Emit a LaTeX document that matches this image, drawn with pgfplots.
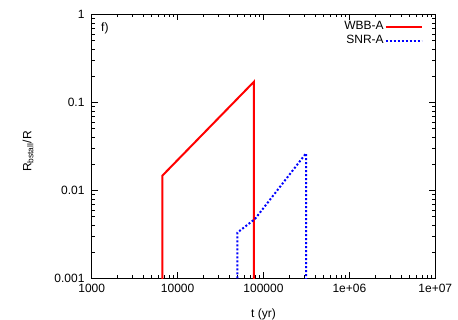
\documentclass[border=0pt]{standalone}
\usepackage{fontspec}
\setmainfont{Liberation Sans}
\usepackage{pgfplots}
\pgfplotsset{compat=1.18}
\begin{document}
\fontsize{12bp}{14bp}\selectfont
\begin{tikzpicture}
\useasboundingbox (-91.7bp,-41.7bp) rectangle (366.3bp,278.3bp);
\begin{axis}[
    at={(0,0)}, anchor=south west,
    scale only axis,
    width=343.6bp, height=264bp,
    xmode=log, ymode=log,
    xmin=1000, xmax=1e7,
    ymin=0.001, ymax=1,
    xtick={1000,10000,100000,1000000,10000000},
    xticklabels={1000,10000,100000,1e+06,1e+07},
    ytick={0.001,0.01,0.1,1},
    yticklabels={0.001,0.01,0.1,1},
    tick label style={font=\fontsize{12bp}{14bp}\selectfont},
    label style={font=\fontsize{12bp}{14bp}\selectfont},
    xticklabel style={yshift=-2bp},
    yticklabel style={xshift=-3bp},
    major tick length=6bp, minor tick length=3bp,
    axis line style={line width=0.8bp},
    every tick/.style={black, line width=0.6bp},
    xlabel={t (yr)},
    ylabel={R\textsubscript{bstall}/R},
    xlabel style={at={(axis description cs:0.5,-0.135)}, anchor=center},
    ylabel style={at={(axis description cs:-0.185,0.48)}, anchor=center, rotate=0},
    legend style={draw=none, fill=none, inner sep=0pt, row sep=0pt,
        at={(axis description cs:0.964,0.981)}, anchor=north east,
        nodes={inner sep=1bp, text height=9bp, text depth=3bp},
        font=\fontsize{12bp}{14bp}\selectfont},
    legend cell align=right,
    legend plot pos=right,
    legend image code/.code={\draw[#1, line width=2bp] (8bp,0bp) -- (44bp,0bp);},
]
\addplot[red, line width=2bp] coordinates {
    (6640,0.0001) (6640,0.01466) (77500,0.1715) (77500,0.0001)
};
\addplot[blue, line width=2bp, dash pattern=on 2bp off 2bp] coordinates {
    (49500,0.0001) (49500,0.0033) (79600,0.00472) (312600,0.0263) (312600,0.0001)
};
\legend{WBB-A, SNR-A}
\node[anchor=north west, inner sep=0pt] at (axis description cs:0.027,0.967) {f)};
\end{axis}
\end{tikzpicture}
\end{document}
